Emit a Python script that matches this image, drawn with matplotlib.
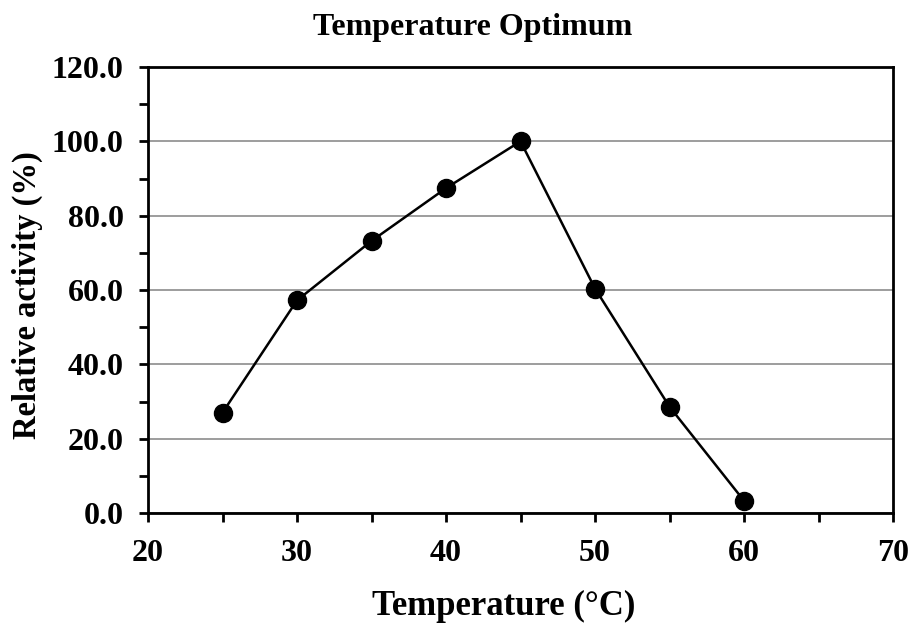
import matplotlib
matplotlib.use("Agg")
import matplotlib.pyplot as plt
from matplotlib.ticker import MultipleLocator, FormatStrFormatter

temps = [25, 30, 35, 40, 45, 50, 55, 60]
activity = [27.0, 57.2, 73.2, 87.4, 100.0, 60.4, 28.6, 3.3]

plt.rcParams["font.family"] = ["Liberation Serif", "DejaVu Serif"]
plt.rcParams["font.weight"] = "bold"

fig = plt.figure(figsize=(9.14, 6.23), dpi=100)
ax = fig.add_axes([148 / 914, 1 - 513 / 623, (893 - 148) / 914, (513 - 67) / 623])

ax.plot(temps, activity, color="black", linewidth=1.8, marker="o",
        markersize=13, zorder=3, clip_on=False)

ax.set_xlim(20, 70)
ax.set_ylim(0, 120)
ax.xaxis.set_major_locator(MultipleLocator(10))
ax.xaxis.set_minor_locator(MultipleLocator(5))
ax.yaxis.set_major_locator(MultipleLocator(20))
ax.yaxis.set_minor_locator(MultipleLocator(10))
ax.yaxis.set_major_formatter(FormatStrFormatter("%.1f"))

ax.grid(True, axis="y", which="major", color="#8c8c8c", linewidth=1.2, zorder=1)
ax.set_axisbelow(True)

for s in ax.spines.values():
    s.set_linewidth(2.0)
    s.set_color("black")

ax.tick_params(axis="both", which="both", direction="out", width=2.0,
               length=6.5, labelsize=23)
ax.tick_params(axis="y", pad=11)
ax.tick_params(axis="x", pad=12)

for lbl in ax.get_xticklabels() + ax.get_yticklabels():
    lbl.set_fontweight("bold")

# labels sit a little left of the axes centre in the original
ax.set_xlabel("Temperature (°C)", fontsize=25, fontweight="bold")
ax.xaxis.set_label_coords(0.478, -0.172)
ax.set_ylabel("Relative activity (%)", fontsize=23.5, fontweight="bold")
ax.yaxis.set_label_coords(-0.141, 0.488)
ax.set_title("Temperature Optimum", fontsize=23, fontweight="bold", pad=23)
ax.title.set_x(0.436)

fig.savefig("out.png", dpi=100)
